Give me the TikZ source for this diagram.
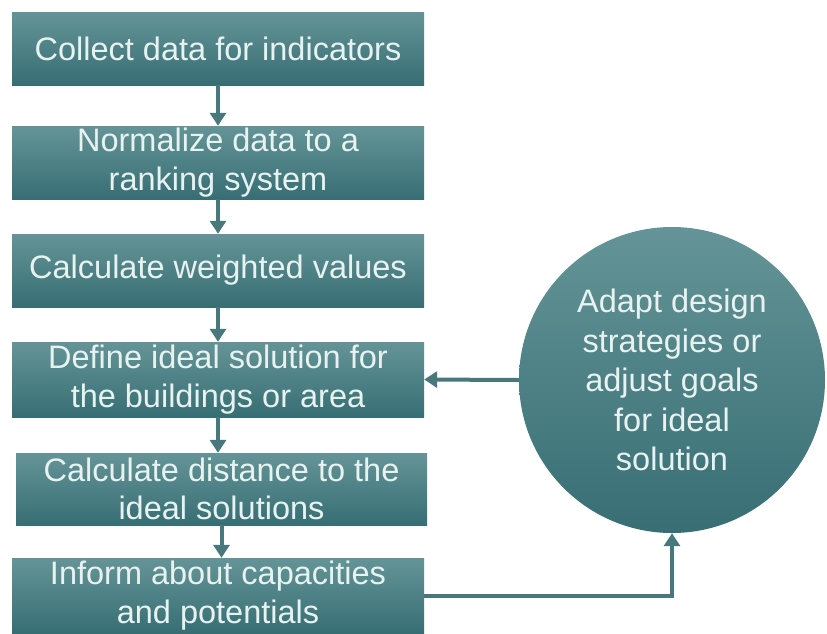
\documentclass[tikz,border=0pt]{standalone}
\usepackage{fontspec}
\setmainfont{Liberation Sans}
\usetikzlibrary{arrows.meta}
\definecolor{boxtop}{RGB}{100,148,151}
\definecolor{boxbot}{RGB}{55,110,116}
\definecolor{arrowc}{RGB}{72,120,124}
\definecolor{txt}{RGB}{232,242,240}
\begin{document}
\begin{tikzpicture}[x=1pt,y=-1pt,
  stepbox/.style={rectangle, top color=boxtop, bottom color=boxbot, draw=none,
    text=txt, font=\fontsize{32.5}{38.5}\selectfont, align=center,
    minimum width=412pt, inner sep=0pt},
  circbox/.style={circle, top color=boxtop, bottom color=boxbot, draw=none,
    text=txt, font=\fontsize{32.5}{39.5}\selectfont, align=center,
    minimum size=306pt, inner sep=0pt},
  arr/.style={draw=arrowc, line width=4pt, -{Triangle[width=16pt,length=13pt]}}]
\useasboundingbox (0,0) rectangle (827,633);
\clip (0,0) rectangle (827,633);
\node[stepbox, minimum height=73pt] (b1) at (218,48.5) {Collect data for indicators};
\node[stepbox, minimum height=73pt] (b2) at (218,162.5) {Normalize data to a\\ranking system};
\node[stepbox, minimum height=73pt] (b3) at (218,270.5) {Calculate weighted values};
\node[stepbox, minimum height=75pt] (b4) at (218,379.5) {Define ideal solution for\\the buildings or area};
\node[stepbox, minimum height=72pt, minimum width=411pt] (b5) at (221.5,489) {Calculate distance to the\\ideal solutions};
\node[stepbox, minimum height=75pt] (b6) at (218,595.5) {Inform about capacities\\and potentials};
\node[circbox] (c) at (672,380) {Adapt design\\strategies or\\adjust goals\\for ideal\\solution};
\draw[arr] (b1.south) -- (b2.north);
\draw[arr] (b2.south) -- (b3.north);
\draw[arr] (b3.south) -- (b4.north);
\draw[arr] (b4.south) -- (b5.north -| b4.south);
\draw[arr] (b5.south) -- (b5.south |- b6.north);
\draw[arr] (c.west) -- (b4.east);
\draw[arr] (b6.east) -| (c.south);
\end{tikzpicture}
\end{document}
